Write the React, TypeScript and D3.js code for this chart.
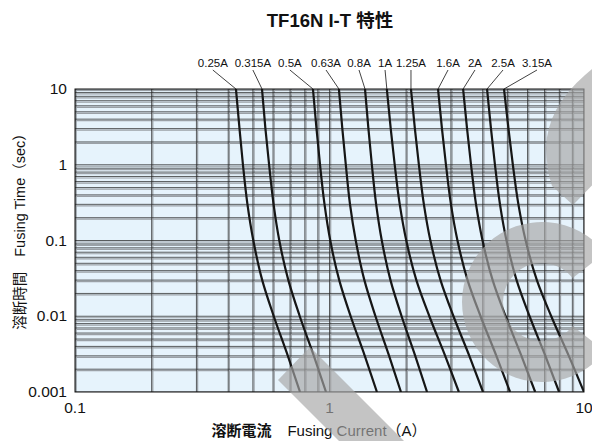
import React from "react";
import * as d3 from "d3";

const TITLE = "TF16N I-T 特性";
const TIMES = [10, 3, 1, 0.3, 0.1, 0.03, 0.01, 0.003, 0.001];
const RATINGS = ["0.25A", "0.315A", "0.5A", "0.63A", "0.8A", "1A", "1.25A", "1.6A", "2A", "2.5A", "3.15A"];
const C_025 = [0.429, 0.443, 0.457, 0.476, 0.502, 0.544, 0.604, 0.686, 0.766];
const C_0315 = [0.543, 0.56, 0.579, 0.603, 0.635, 0.689, 0.764, 0.868, 0.969];
const C_05 = [0.861, 0.889, 0.918, 0.956, 1.007, 1.092, 1.211, 1.376, 1.536];
const C_063 = [1.089, 1.123, 1.159, 1.204, 1.268, 1.371, 1.516, 1.715, 1.909];
const C_08 = [1.379, 1.422, 1.467, 1.525, 1.605, 1.736, 1.92, 2.172, 2.417];
const C_1 = [1.68, 1.74, 1.804, 1.888, 2.003, 2.194, 2.468, 2.848, 3.224];
const C_125 = [2.09, 2.165, 2.245, 2.349, 2.491, 2.73, 3.07, 3.543, 4.011];
const C_16 = [2.67, 2.766, 2.868, 3.001, 3.183, 3.487, 3.922, 4.526, 5.124];
const C_2 = [3.35, 3.471, 3.598, 3.765, 3.993, 4.375, 4.921, 5.678, 6.429];
const C_25 = [4.16, 4.31, 4.468, 4.676, 4.959, 5.433, 6.111, 7.051, 7.983];
const C_315 = [4.85, 5.049, 5.253, 5.524, 5.898, 6.528, 7.435, 8.715, 10.0];
const SERIES = [C_025, C_0315, C_05, C_063, C_08, C_1, C_125, C_16, C_2, C_25, C_315];
const LABEL_AT = [0.348, 0.5, 0.699, 0.969, 1.306, 1.653, 2.09, 2.922, 3.729, 4.806, 6.536];
const X_TICKS = [0.1, 1, 10];
const X_TICK_LABELS = ["0.1", "1", "10"];
const Y_TICKS = [10, 1, 0.1, 0.01, 0.001];
const Y_TICK_LABELS = ["10", "1", "0.1", "0.01", "0.001"];

const FONT = "'Liberation Sans', Arial, 'Noto Sans CJK JP', sans-serif";

export default function App() {
  const W = 592, H = 441;
  const L = 75, R = 584, T = 89, B = 392;
  const x = d3.scaleLog().domain([0.1, 10]).range([L, R]);
  const y = d3.scaleLog().domain([0.001, 10]).range([B, T]);

  const xGrid: number[] = [];
  [0.1, 1].forEach((d) => { for (let k = 1; k <= 9; k++) xGrid.push(d * k); });
  xGrid.push(10);
  const yGrid: number[] = [];
  [0.001, 0.01, 0.1, 1].forEach((d) => { for (let k = 1; k <= 9; k++) yGrid.push(d * k); });
  yGrid.push(10);

  const line = d3
    .line<[number, number]>()
    .x((d) => x(d[0]))
    .y((d) => y(d[1]))
    .curve(d3.curveMonotoneY);

  const cx = 542, cy = 302, ro = 80, ri = 39;
  const arc = d3.arc()({
    innerRadius: ri,
    outerRadius: ro,
    startAngle: (128 * Math.PI) / 180,
    endAngle: (412 * Math.PI) / 180,
  } as any) as string;

  return (
    <svg width={W} height={H} style={{ position: "absolute", left: 0, top: 0, background: "#fff" }} fontFamily={FONT}>
      <defs>
        <clipPath id="plotclip">
          <rect x={L} y={T} width={R - L} height={B - T} />
        </clipPath>
      </defs>
      <text x={330} y={27} textAnchor="middle" fontSize={18.5} fontWeight="bold" fill="#111">{TITLE}</text>

      <rect x={L} y={T} width={R - L} height={B - T} fill="#e6f3fc" />
      <g clipPath="url(#plotclip)">
        {yGrid.map((v, i) => (
          <line key={"gy" + i} x1={L} x2={R} y1={y(v) + 1.5} y2={y(v) + 1.5} stroke="#9aa0a6" strokeWidth={1.2} />
        ))}
        {xGrid.map((v, i) => (
          <line key={"gx" + i} x1={x(v) + 1.2} x2={x(v) + 1.2} y1={T} y2={B} stroke="#9aa0a6" strokeWidth={1.2} />
        ))}
        {yGrid.map((v, i) => (
          <line key={"by" + i} x1={L} x2={R} y1={y(v)} y2={y(v)} stroke="#2a2a2a" strokeWidth={0.75} />
        ))}
        {xGrid.map((v, i) => (
          <line key={"bx" + i} x1={x(v)} x2={x(v)} y1={T} y2={B} stroke="#2a2a2a" strokeWidth={0.75} />
        ))}
        {SERIES.map((s, i) => (
          <path
            key={"c" + i}
            d={line(s.map((c, j) => [c, TIMES[j]] as [number, number])) || ""}
            fill="none"
            stroke="#161616"
            strokeWidth={2.2}
          />
        ))}
      </g>
      <rect x={L} y={T} width={R - L} height={B - T} fill="none" stroke="#111" strokeWidth={1} />

      {RATINGS.map((r, i) => (
        <g key={"l" + i}>
          <line x1={x(LABEL_AT[i])} y1={70} x2={x(SERIES[i][0])} y2={T} stroke="#111" strokeWidth={0.8} />
          <text x={x(LABEL_AT[i])} y={67} textAnchor="middle" fontSize={11.5} fill="#111">{r}</text>
        </g>
      ))}

      {Y_TICKS.map((v, i) => (
        <text key={"yt" + i} x={67} y={y(v) + 5} textAnchor="end" fontSize={15.5} fill="#111">{Y_TICK_LABELS[i]}</text>
      ))}
      {X_TICKS.map((v, i) => (
        <text key={"xt" + i} x={x(v)} y={413} textAnchor="middle" fontSize={15.5} fill="#111">{X_TICK_LABELS[i]}</text>
      ))}

      <text x={319} y={436} textAnchor="middle" fontSize={15} fill="#111">
        <tspan fontWeight="bold">溶断電流</tspan>
        <tspan dx={16}>Fusing Current（A）</tspan>
      </text>
      <text transform="translate(25,228) rotate(-90)" textAnchor="middle" fontSize={14.5} fill="#111">
        <tspan>溶断時間</tspan>
        <tspan dx={15}>Fusing Time（sec）</tspan>
      </text>

      <g fill="#a6a6a6" opacity={0.66}>
        <path d="M278,380 L310,347 L420,457 L388,490 Z" />
        <path d={arc} transform={`translate(${cx},${cy})`} />
        <path d="M605,58 L585,75 Q547,108 546,148 Q547,172 552,186 L573,205 L605,172 Z" />
      </g>
    </svg>
  );
}
